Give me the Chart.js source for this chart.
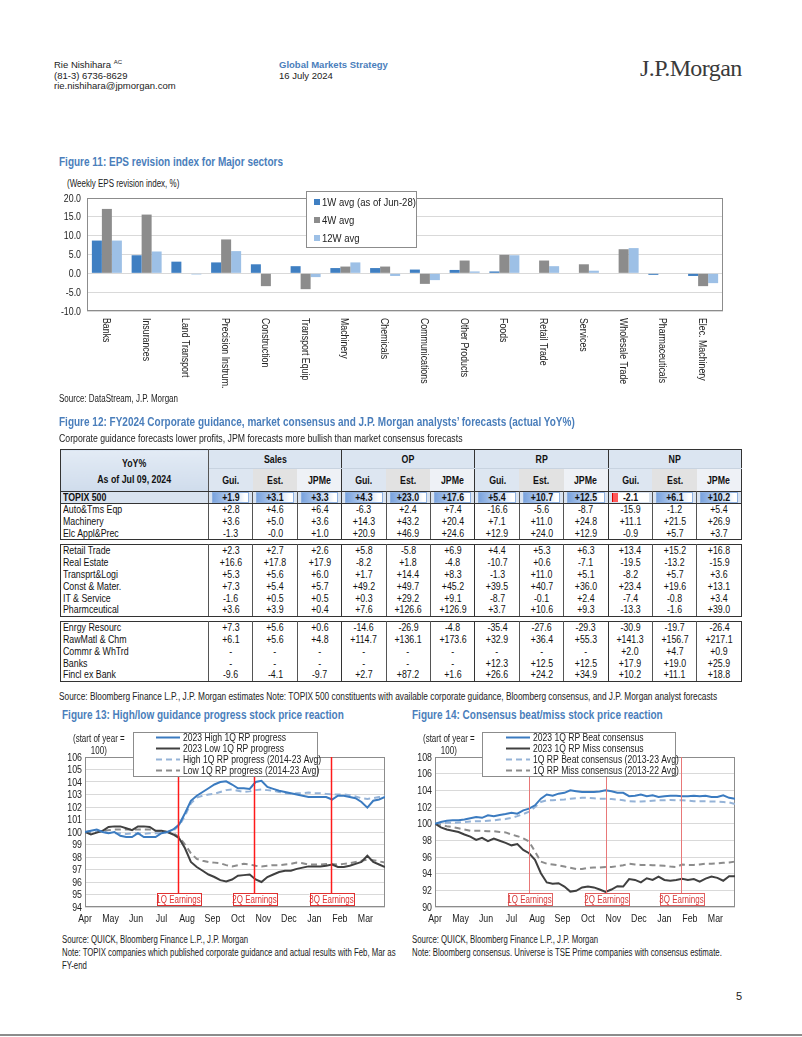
<!DOCTYPE html>
<html><head><meta charset="utf-8">
<script src="https://cdn.jsdelivr.net/npm/chart.js@4.4.1/dist/chart.umd.min.js"></script>
<style>
html,body{margin:0;padding:0;background:#fff;}
body{width:802px;height:1037px;position:relative;overflow:hidden;font-family:'Liberation Sans',Arial,sans-serif;color:#222;}
.t{position:absolute;white-space:nowrap;font-size:9.5px;line-height:11px;}
.ft{position:absolute;white-space:nowrap;color:#4a7ebb;font-weight:bold;font-size:12.5px;line-height:14px;}
.n{display:inline-block;transform-origin:0 0;white-space:nowrap;}
canvas{position:absolute;}
#tbl{position:absolute;left:60px;top:449px;border-collapse:collapse;table-layout:fixed;width:681px;font-size:11px;color:#111;}
#tbl td{padding:0;text-align:center;height:11.8px;line-height:11.8px;border-left:1px solid #555;border-right:1px solid #555;white-space:nowrap;overflow:hidden;}
#tbl td span{display:inline-block;transform:scaleX(0.8);transform-origin:50% 50%;}
#tbl td.nm{text-align:left;padding-left:2px;}
#tbl td.nm span{transform-origin:0 50%;}
#tbl tr.h1 td{height:18px;line-height:18px;background:#dbe5f1;font-weight:bold;border-top:1.5px solid #333;border-bottom:1px solid #c8d3e0;}
#tbl tr.h1 td.corner{background:linear-gradient(#e3ebf5,#cfdcec);line-height:16px;border-bottom:1.5px solid #333;border-left:1.5px solid #333;}
#tbl tr.h2 td{height:22px;line-height:22px;font-weight:bold;border-left:none;border-right:none;}
#tbl tr.h2 td.s0{background:#dde6f1;}
#tbl tr.h2 td.s1{background:#e2e2e2;}
#tbl tr.h2 td.s2{background:#eef1f6;}
#tbl td.ge{border-right:1px solid #333 !important;}
#tbl tr.topix td{background:#d9e3f0;font-weight:bold;height:11px;line-height:11px;border-top:1.5px solid #333;border-bottom:1.5px solid #333;}
#tbl tr.gtop td{border-top:1.5px solid #333;}
#tbl tr.gbot td{border-bottom:1.5px solid #333;}
#tbl tr.sp td{border:none;height:4px;line-height:4px;background:#fff;}
#tbl td.first{border-left:1.5px solid #333;}
#tbl td.last{border-right:1.5px solid #333 !important;}
.db{margin:0 3px;height:9px;line-height:9px;border:1px solid #8fb1e0;background:linear-gradient(to right,#7aa3dd 0%,#c3d6f1 55%,#ffffff 92%);}
.dbn{margin:0 3px;height:9px;line-height:9px;background:linear-gradient(to right,#ff5a5a 0,#ff5a5a 5px,#fff 5px);border-left:1px solid #d00;}
</style></head>
<body>
<!-- header -->
<div class="t" style="left:54px;top:60px;line-height:10.5px;font-size:9.5px;">Rie Nishihara <sup style="font-size:6px;vertical-align:4px;line-height:0">AC</sup><br>(81-3) 6736-8629<br>rie.nishihara@jpmorgan.com</div>
<div class="t" style="left:279px;top:60px;line-height:10.5px;font-size:9.5px;"><span style="color:#4a7ebb;font-weight:bold;">Global Markets Strategy</span><br>16 July 2024</div>
<div class="t" style="left:640px;top:55px;font-family:'Liberation Serif','DejaVu Serif',serif;font-size:24px;line-height:27px;color:#3a3a3a;letter-spacing:-0.6px;">J.P.Morgan</div>

<!-- Figure 11 -->
<div class="ft" style="left:59px;top:155px;"><span class="n" style="transform:scaleX(0.8)">Figure 11: EPS revision index for Major sectors</span></div>
<div class="t" style="left:67px;top:178px;font-size:10px;"><span class="n" style="transform:scaleX(0.8)">(Weekly EPS revision index, %)</span></div>
<canvas id="c11" width="680" height="220" style="left:55px;top:175px;"></canvas>
<div class="t" style="left:59px;top:393px;font-size:10px;"><span class="n" style="transform:scaleX(0.8)">Source: DataStream, J.P. Morgan</span></div>

<!-- Figure 12 -->
<div class="ft" style="left:59px;top:415px;"><span class="n" style="transform:scaleX(0.8)">Figure 12: FY2024 Corporate guidance, market consensus and J.P. Morgan analysts’ forecasts (actual YoY%)</span></div>
<div class="t" style="left:59px;top:433px;font-size:10.5px;"><span class="n" style="transform:scaleX(0.83)">Corporate guidance forecasts lower profits, JPM forecasts more bullish than market consensus forecasts</span></div>
<table id="tbl"></table>
<div class="t" style="left:59px;top:691px;font-size:10px;"><span class="n" style="transform:scaleX(0.83)">Source: Bloomberg Finance L.P., J.P. Morgan estimates Note: TOPIX 500 constituents with available corporate guidance, Bloomberg consensus, and J.P. Morgan analyst forecasts</span></div>

<!-- Figure 13 -->
<div class="ft" style="left:62px;top:708px;"><span class="n" style="transform:scaleX(0.8)">Figure 13: High/low guidance progress stock price reaction</span></div>
<canvas id="c13" width="340" height="202" style="left:55px;top:728px;"></canvas>
<div class="t" style="left:73px;top:732px;font-size:10.5px;line-height:12px;"><span class="n" style="transform:scaleX(0.76);text-align:center;">(start of year =<br>100)</span></div>
<div class="t" style="left:62px;top:933px;line-height:13px;font-size:10px;"><span class="n" style="transform:scaleX(0.78)">Source: QUICK, Bloomberg Finance L.P., J.P. Morgan<br>Note: TOPIX companies which published corporate guidance and actual results with Feb, Mar as<br>FY-end</span></div>

<!-- Figure 14 -->
<div class="ft" style="left:412px;top:708px;"><span class="n" style="transform:scaleX(0.8)">Figure 14: Consensus beat/miss stock price reaction</span></div>
<canvas id="c14" width="340" height="202" style="left:405px;top:728px;"></canvas>
<div class="t" style="left:423px;top:732px;font-size:10.5px;line-height:12px;"><span class="n" style="transform:scaleX(0.76);text-align:center;">(start of year =<br>100)</span></div>
<div class="t" style="left:412px;top:933px;line-height:13px;font-size:10px;"><span class="n" style="transform:scaleX(0.78)">Source: QUICK, Bloomberg Finance L.P., J.P. Morgan<br>Note: Bloomberg consensus. Universe is TSE Prime companies with consensus estimate.</span></div>

<div class="t" style="left:736px;top:991px;font-size:11px;">5</div>
<div style="position:absolute;left:0;top:1034px;width:802px;height:2px;background:#8c8c8c;"></div>

<script>
// ---------- Figure 11 data ----------
const sectors = ['Banks','Insurances','Land Transport','Precision Instrum.','Construction','Transport Equip','Machinery','Chemicals','Communications','Other Products','Foods','Retail Trade','Services','Wholesale Trade','Pharmaceuticals','Elec. Machinery'];
const avg1W  = [8.7, 4.8, 3.1, 2.9, 2.4, 1.9, 1.4, 1.4, 1.0, 0.9, 0.5, 0.0, 0.0, 0.0, -0.4, -0.7];
const avg4W  = [17.1, 15.6, 0.0, 9.0, -3.4, -4.2, 1.8, 1.8, -2.8, 3.4, 4.9, 3.4, 2.4, 6.4, 0.0, -3.4];
const avg12W = [8.7, 5.8, -0.3, 5.9, 0.0, -1.0, 2.9, -0.7, -1.8, 0.5, 4.8, 1.9, 0.7, 6.7, 0.0, -2.6];
const fig11Series = ['1W avg (as of Jun-28)','4W avg','12W avg'];

// ---------- Figure 12 data ----------
const tableGroups = ['Sales','OP','RP','NP'];
const tableCols = ['Gui.','Est.','JPMe'];
const topixName = 'TOPIX 500';
const topixRow = ['+1.9','+3.1','+3.3','+4.3','+23.0','+17.6','+5.4','+10.7','+12.5','-2.1','+6.1','+10.2'];
const group1Names = ['Auto&Tms Eqp','Machinery','Elc Appl&Prec'];
const group1Vals = [
 ['+2.8','+4.6','+6.4','-6.3','+2.4','+7.4','-16.6','-5.6','-8.7','-15.9','-1.2','+5.4'],
 ['+3.6','+5.0','+3.6','+14.3','+43.2','+20.4','+7.1','+11.0','+24.8','+11.1','+21.5','+26.9'],
 ['-1.3','-0.0','+1.0','+20.9','+46.9','+24.6','+12.9','+24.0','+12.9','-0.9','+5.7','+3.7']];
const group2Names = ['Retail Trade','Real Estate','Transprt&Logi','Const & Mater.','IT & Service','Pharmceutical'];
const group2Vals = [
 ['+2.3','+2.7','+2.6','+5.8','-5.8','+6.9','+4.4','+5.3','+6.3','+13.4','+15.2','+16.8'],
 ['+16.6','+17.8','+17.9','-8.2','+1.8','-4.8','-10.7','+0.6','-7.1','-19.5','-13.2','-15.9'],
 ['+5.3','+5.6','+6.0','+1.7','+14.4','+8.3','-1.3','+11.0','+5.1','-8.2','+5.7','+3.6'],
 ['+7.3','+5.4','+5.7','+49.2','+49.7','+45.2','+39.5','+40.7','+36.0','+23.4','+19.6','+13.1'],
 ['-1.6','+0.5','+0.5','+0.3','+29.2','+9.1','-8.7','-0.1','+2.4','-7.4','-0.8','+3.4'],
 ['+3.6','+3.9','+0.4','+7.6','+126.6','+126.9','+3.7','+10.6','+9.3','-13.3','-1.6','+39.0']];
const group3Names = ['Enrgy Resourc','RawMatl & Chm','Commr & WhTrd','Banks','Fincl ex Bank'];
const group3Vals = [
 ['+7.3','+5.6','+0.6','-14.6','-26.9','-4.8','-35.4','-27.6','-29.3','-30.9','-19.7','-26.4'],
 ['+6.1','+5.6','+4.8','+114.7','+136.1','+173.6','+32.9','+36.4','+55.3','+141.3','+156.7','+217.1'],
 ['-','-','-','-','-','-','-','-','-','+2.0','+4.7','+0.9'],
 ['-','-','-','-','-','-','+12.3','+12.5','+12.5','+17.9','+19.0','+25.9'],
 ['-9.6','-4.1','-9.7','+2.7','+87.2','+1.6','+26.6','+24.2','+34.9','+10.2','+11.1','+18.8']];

// ---------- Figure 13/14 data (weekly, week 0 = start of April) ----------
const monthLabels = ['Apr','May','Jun','Jul','Aug','Sep','Oct','Nov','Dec','Jan','Feb','Mar'];
const earningsLabels = ['1Q Earnings','2Q Earnings','3Q Earnings'];
const earningsWeeks13 = [15.86, 28.8, 41.8];
const earningsWeeks14 = [15.98, 29.0, 41.9];
const fig13Labels = ['2023 High 1Q RP progress','2023 Low 1Q RP progress','High 1Q RP progress (2014-23 Avg)','Low 1Q RP progress (2014-23 Avg)'];
const high2023 = [100.0,100.1,100.2,100.0,99.9,100.0,99.7,99.6,99.6,99.9,99.6,99.6,99.6,99.9,100.0,100.2,100.6,101.5,102.5,102.9,103.2,103.5,103.8,104.0,104.05,103.8,103.5,103.5,103.45,104.0,104.1,103.6,103.45,103.3,103.2,103.1,103.0,102.9,102.8,102.8,102.8,102.8,102.6,102.9,102.9,102.8,102.7,102.4,101.95,102.5,102.6,102.8];
const low2023 = [100.0,99.8,99.95,100.1,100.4,100.45,100.45,100.3,100.15,100.45,100.45,100.4,100.1,100.1,100.0,99.8,99.5,98.7,97.6,97.2,96.9,96.6,96.4,96.15,96.05,96.2,96.5,96.55,96.6,96.2,96.0,96.4,96.6,96.8,96.9,96.9,97.05,97.15,97.25,97.25,97.25,97.3,97.4,97.2,97.2,97.3,97.45,97.6,98.1,97.6,97.4,97.2];
const highAvg = [100.0,100.05,100.0,100.0,99.95,99.9,99.9,99.85,99.9,99.9,99.85,99.9,99.9,99.9,100.0,100.1,100.5,101.3,102.3,102.75,102.9,103.0,103.05,103.2,103.35,103.4,103.3,103.2,103.25,103.35,103.4,103.35,103.3,103.2,103.1,103.05,103.1,103.1,103.15,103.1,103.1,103.05,103.0,103.0,103.0,102.95,102.85,102.7,102.65,102.7,102.8,102.85];
const lowAvg = [100.0,100.0,100.0,100.1,100.15,100.2,100.2,100.2,100.2,100.2,100.2,100.2,100.1,100.05,100.0,99.9,99.6,99.0,98.3,97.85,97.7,97.6,97.55,97.5,97.35,97.25,97.35,97.45,97.4,97.3,97.25,97.3,97.35,97.35,97.4,97.45,97.55,97.5,97.4,97.4,97.4,97.45,97.45,97.4,97.45,97.5,97.6,97.7,97.8,97.75,97.65,97.55];
const fig14Labels = ['2023 1Q RP Beat consensus','2023 1Q RP Miss consensus','1Q RP Beat consensus (2013-23 Avg)','1Q RP Miss consensus (2013-22 Avg)'];
const beat2023 = [100.0,100.2,100.35,100.4,100.4,100.5,100.65,100.8,100.7,101.0,100.9,101.05,101.15,101.3,101.2,101.6,101.8,102.2,103.0,103.5,103.35,103.6,103.7,104.0,103.9,103.8,103.8,103.8,103.85,104.0,103.9,103.7,103.7,103.3,103.35,103.5,103.3,103.4,103.2,103.3,103.35,103.35,103.3,103.3,103.35,103.3,103.35,103.2,103.2,103.4,103.1,103.0];
const miss2023 = [100.0,99.55,99.3,99.15,99.0,98.7,98.45,98.05,98.3,97.9,98.2,97.95,97.7,97.4,97.55,96.85,96.45,95.65,94.05,92.95,92.8,92.85,92.45,91.85,91.95,92.35,92.45,92.35,92.1,91.8,92.1,92.5,92.45,93.35,93.25,92.95,93.45,93.25,93.65,93.25,93.15,93.25,93.4,93.25,93.35,93.05,93.4,93.65,93.5,93.15,93.7,93.7];
const beatAvg = [100.0,100.05,100.1,100.1,100.15,100.2,100.25,100.3,100.3,100.35,100.4,100.5,100.55,100.7,100.9,101.15,101.45,102.0,102.6,102.8,102.8,102.85,102.9,103.0,103.05,103.1,103.1,103.05,103.0,103.0,102.95,102.9,102.8,102.7,102.65,102.65,102.7,102.75,102.8,102.8,102.85,102.8,102.8,102.75,102.7,102.7,102.7,102.65,102.65,102.6,102.55,102.35];
const missAvg = [100.0,99.85,99.7,99.6,99.45,99.3,99.15,99.15,99.15,99.1,99.1,99.0,98.95,98.7,98.5,98.25,97.85,96.65,95.45,95.2,95.1,95.0,94.85,94.7,94.55,94.55,94.7,94.75,94.75,94.8,94.8,94.9,95.0,95.2,95.1,95.05,95.05,95.0,95.0,94.95,94.85,94.8,95.1,95.05,95.05,95.1,95.2,95.2,95.25,95.3,95.35,95.45];

// ---------- table ----------
(function buildTable(){
  const t = document.getElementById('tbl');
  const sp = v => `<span>${v}</span>`;
  let h = '<colgroup><col style="width:148px">' + '<col style="width:44.4px">'.repeat(12) + '</colgroup>';
  h += `<tr class="h1"><td rowspan="2" class="corner first"><span style="line-height:16px">YoY%<br>As of Jul 09, 2024</span></td>` +
       tableGroups.map((g,i)=>`<td colspan="3" class="ge${i===3?' last':''}">${sp(g)}</td>`).join('') + '</tr>';
  h += '<tr class="h2">' + tableGroups.map((g,gi)=>tableCols.map((c,j)=>`<td class="s${j}${j===2?' ge':''}${gi===3&&j===2?' last':''}">${sp(c)}</td>`).join('')).join('') + '</tr>';
  h += `<tr class="topix"><td class="nm first">${sp(topixName)}</td>` + topixRow.map((v,i)=>{
      const inner = v.startsWith('-') ? `<div class="dbn">${sp(v)}</div>` : `<div class="db">${sp(v)}</div>`;
      return `<td class="${i%3===2?'ge':''}${i===11?' last':''}">${inner}</td>`;}).join('') + '</tr>';
  function group(names, vals, withTop){
    let s='';
    names.forEach((n,r)=>{
      const cls = [(r===0&&withTop)?'gtop':'', r===names.length-1?'gbot':''].join(' ');
      s += `<tr class="${cls}"><td class="nm first">${sp(n)}</td>` + vals[r].map((v,i)=>`<td class="${i%3===2?'ge':''}${i===11?' last':''}">${sp(v)}</td>`).join('') + '</tr>';
    });
    return s;
  }
  h += group(group1Names, group1Vals, false);
  h += '<tr class="sp"><td colspan="13"></td></tr>';
  h += group(group2Names, group2Vals, true);
  h += '<tr class="sp"><td colspan="13"></td></tr>';
  h += group(group3Names, group3Vals, true);
  t.innerHTML = h;
})();

// ---------- Chart.js ----------
const FONT = "'Liberation Sans',Arial,sans-serif";
Chart.defaults.font.family = FONT;
Chart.defaults.color = '#222';
Chart.defaults.animation = false;

function nText(ctx, text, x, y, sx){ ctx.save(); ctx.translate(x, y); ctx.scale(sx, 1); ctx.fillText(text, 0, 0); ctx.restore(); }

const framePlugin = {id:'frame', beforeDatasetsDraw(chart){
  const {ctx, chartArea:a} = chart; ctx.save(); ctx.strokeStyle='#8c8c8c'; ctx.lineWidth=1;
  ctx.strokeRect(Math.round(a.left)+0.5, Math.round(a.top)+0.5, Math.round(a.width)-1, Math.round(a.height)-1); ctx.restore();}};

// axis tick labels drawn from the scales' own ticks, with a narrow face
const narrowTicks = {id:'narrowTicks', afterDraw(chart, args, o){
  const {ctx, chartArea:a} = chart; ctx.save(); ctx.fillStyle='#222'; ctx.font=o.size+'px '+FONT;
  if (o.yPad !== undefined){ const s=chart.scales.y; ctx.textAlign='right'; ctx.textBaseline='middle';
    s.ticks.forEach(t=>nText(ctx, t.label, a.left-o.yPad, s.getPixelForValue(t.value)+0.5, o.sx)); }
  if (o.xPad !== undefined){ const s=chart.scales.x; ctx.textAlign='center'; ctx.textBaseline='middle';
    s.ticks.forEach(t=>nText(ctx, t.label, s.getPixelForValue(t.value), a.bottom+o.xPad, o.sx)); }
  ctx.restore();}};

const rotLabels = {id:'rotLabels', afterDraw(chart, args, o){
  const {ctx, chartArea:a, scales:{x}} = chart; ctx.save(); ctx.font = o.size+'px '+FONT; ctx.fillStyle='#222';
  chart.data.labels.forEach((lab,i)=>{ const px = x.getPixelForValue(i)+o.dx; ctx.save(); ctx.translate(px, a.bottom+o.gap); ctx.rotate(Math.PI/2);
    ctx.scale(o.sx,1); ctx.textAlign='left'; ctx.textBaseline='middle'; ctx.fillText(lab,0,0); ctx.restore(); });
  ctx.restore();}};

const boxLegend = {id:'boxLegend', afterDraw(chart, args, o){
  const {ctx} = chart; ctx.save();
  ctx.fillStyle='#fff'; ctx.fillRect(o.x, o.y, o.w, o.h);
  ctx.strokeStyle='#8c8c8c'; ctx.lineWidth=1; ctx.strokeRect(o.x+0.5, o.y+0.5, o.w, o.h);
  ctx.font = o.size+'px '+FONT; ctx.textBaseline='middle'; ctx.textAlign='left';
  chart.data.datasets.forEach((ds,i)=>{
    const cy = o.y + o.first + i*o.rowH;
    if (o.kind==='line'){ ctx.strokeStyle=ds.borderColor; ctx.lineWidth=ds.borderWidth; ctx.setLineDash(ds.borderDash||[]);
      ctx.beginPath(); ctx.moveTo(o.sx, cy); ctx.lineTo(o.sx+o.sw, cy); ctx.stroke(); ctx.setLineDash([]); }
    else { ctx.fillStyle=ds.backgroundColor; ctx.fillRect(o.sx, cy-3, 6, 6); }
    ctx.fillStyle='#222'; nText(ctx, ds.label, o.tx, cy+0.5, o.scale);
  });
  ctx.restore();}};

const earnings = {id:'earnings', afterDatasetsDraw(chart, args, o){
  const {ctx, chartArea:a, scales:{x}} = chart; ctx.save();
  o.weeks.forEach((w,i)=>{
    const px = Math.round(x.getPixelForValue(w))+0.5; const bt = a.bottom - o.off;
    ctx.strokeStyle=o.color; ctx.lineWidth=o.lw; ctx.beginPath(); ctx.moveTo(px, a.top); ctx.lineTo(px, bt); ctx.stroke();
    ctx.fillStyle='#fff'; ctx.fillRect(px-o.bw/2, bt, o.bw, o.bh);
    ctx.strokeStyle=o.border; ctx.lineWidth=1; ctx.strokeRect(Math.round(px-o.bw/2)+0.5, bt+0.5, o.bw, o.bh);
    ctx.fillStyle=o.text; ctx.font=o.size+'px '+FONT; ctx.textAlign='center'; ctx.textBaseline='middle';
    nText(ctx, o.labels[i], px, bt+o.bh/2+1, o.sx);
  });
  ctx.restore();}};

// Figure 11
new Chart(document.getElementById('c11'), {
  type:'bar',
  data:{labels:sectors, datasets:[
    {label:fig11Series[0], data:avg1W, backgroundColor:'#3f7fc2'},
    {label:fig11Series[1], data:avg4W, backgroundColor:'#8c8c8c'},
    {label:fig11Series[2], data:avg12W, backgroundColor:'#9dc0e6'}]},
  options:{responsive:false, devicePixelRatio:1, events:[],
    datasets:{bar:{categoryPercentage:0.755, barPercentage:1.0}},
    layout:{padding:{top:23, right:12, left:0, bottom:0}},
    plugins:{legend:{display:false}, tooltip:{enabled:false},
      rotLabels:{size:11, gap:7, dx:-1, sx:0.8},
      narrowTicks:{size:11, sx:0.8, yPad:6},
      boxLegend:{kind:'square', x:251, y:16, w:110, h:56, first:11, rowH:18, sx:259, tx:267, size:11.5, scale:0.83}},
    scales:{
      x:{grid:{display:false}, border:{display:false}, ticks:{display:false}, afterFit(s){s.height=84;}},
      y:{min:-10, max:20, ticks:{display:false, stepSize:5, callback:v=>v.toFixed(1)},
         grid:{color:'#d9d9d9', drawTicks:false}, border:{display:false}, afterFit(s){s.width=32;}}
    }},
  plugins:[framePlugin, rotLabels, narrowTicks, boxLegend]
});

function lineChart(id, labels, series, ymin, ymax, step, weeks, eStyle, legendX, legendW){
  const colors = [['#3b7bc0',[]],['#404040',[]],['#95b3d7',[6,4]],['#8c8c8c',[6,4]]];
  return new Chart(document.getElementById(id), {
    type:'line',
    data:{datasets: series.map((d,i)=>({label:labels[i], data:d.map((v,w)=>({x:w,y:v})), borderColor:colors[i][0], borderDash:colors[i][1],
      borderWidth:2, pointRadius:0, tension:0, fill:false}))},
    options:{responsive:false, devicePixelRatio:1, events:[],
      layout:{padding:{top:29, right:10, left:0, bottom:0}},
      plugins:{legend:{display:false}, tooltip:{enabled:false},
        earnings:Object.assign({weeks, labels:earningsLabels, off:14, bw:44, bh:12, size:10.5, sx:0.76}, eStyle),
        narrowTicks:{size:11, sx:0.8, yPad:3, xPad:12},
        boxLegend:{kind:'line', x:legendX, y:4, w:legendW, h:44, first:5.5, rowH:11, sx:101, sw:24, tx:128, size:11, scale:0.78}},
      scales:{
        x:{type:'linear', min:0, max:51, grid:{display:false, drawTicks:false}, border:{display:false},
           afterBuildTicks(s){ s.ticks = monthLabels.map((m,i)=>({value:i*52/12})); },
           ticks:{display:false, autoSkip:false, callback:(v,i)=>monthLabels[i]},
           afterFit(s){s.height=23;}},
        y:{min:ymin, max:ymax, ticks:{display:false, stepSize:step},
           grid:{color:'#d9d9d9', drawTicks:false}, border:{display:false}, afterFit(s){s.width=30;}}
      }},
    plugins:[framePlugin, earnings, narrowTicks, boxLegend]
  });
}
lineChart('c13', fig13Labels, [high2023, low2023, highAvg, lowAvg], 94, 106, 1, earningsWeeks13,
  {color:'#ff1a1a', lw:1.5, border:'#e03030', text:'#e03030'}, 78, 184);
lineChart('c14', fig14Labels, [beat2023, miss2023, beatAvg, missAvg], 90, 108, 2, earningsWeeks14,
  {color:'#e87878', lw:1, border:'#e06060', text:'#d83a3a'}, 77, 193);
</script>
</body></html>
